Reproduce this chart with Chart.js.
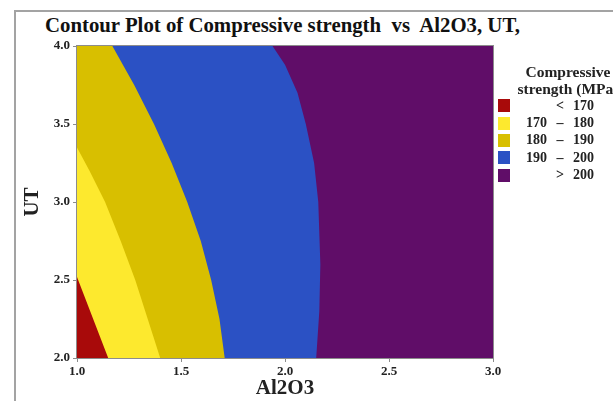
<!DOCTYPE html>
<html>
<head>
<meta charset="utf-8">
<script src="https://cdn.jsdelivr.net/npm/chart.js@4"></script>
<style>
  body { margin: 0; background: #fff; }
  #wrap { position: relative; width: 613px; height: 401px; overflow: hidden; background: #fff; }
  #frame { position: absolute; left: 14px; top: 10px; width: 700px; height: 500px;
           border-left: 2px solid #a3a3a3; border-top: 2px solid #a3a3a3; }
  #title { position: absolute; left: 45px; top: 13px; font: bold 21px "Liberation Serif", serif;
           color: #111; white-space: nowrap; transform-origin: 0 0; transform: scaleX(0.99); }
  #legend { position: absolute; left: 498px; top: 64px; font: bold 14px "Liberation Serif", serif; color: #222; }
  #legend .hd { width: 140px; text-align: center; line-height: 16.5px; font-size: 15.5px; white-space: nowrap; }
  #legend .row { height: 17.4px; display: flex; align-items: center; white-space: nowrap; }
  #legend .sw { width: 12px; height: 13px; margin-right: 13px; }
  #legend .lo { width: 24px; text-align: right; }
  #legend .da { width: 26px; text-align: center; }
  #legend .hi { width: 30px; text-align: left; }
  canvas { position: absolute; left: 0; top: 0; }
</style>
</head>
<body>
<div id="wrap">
  <div id="frame"></div>
  <div id="title">Contour Plot of Compressive strength&nbsp; vs&nbsp; Al2O3, UT,</div>
  <canvas id="myChart" width="613" height="401"></canvas>
  <div id="legend"></div>
</div>
<script>
// legend classes
var classNames = ["<  170", "170  –  180", "180  –  190", "190  –  200", ">  200"];
var classColors = ["#a80a0a", "#fde92e", "#d8bf00", "#2b51c4", "#600d68"];

// contour boundaries: UT value -> Al2O3 value
var ut170 = [2.0, 2.52, 4.0];
var al170 = [1.15, 1.0, 1.0];
var ut180 = [2.0, 2.25, 2.5, 2.75, 3.0, 3.2, 3.35, 4.0];
var al180 = [1.40, 1.34, 1.28, 1.21, 1.135, 1.06, 1.0, 1.0];
var ut190 = [2.0, 2.25, 2.5, 2.75, 3.0, 3.25, 3.5, 3.75, 4.0];
var al190 = [1.71, 1.685, 1.645, 1.595, 1.53, 1.455, 1.37, 1.275, 1.17];
var ut200 = [2.0, 2.3, 2.6, 3.0, 3.25, 3.5, 3.7, 3.88, 4.0];
var al200 = [2.15, 2.165, 2.17, 2.16, 2.14, 2.10, 2.06, 2.0, 1.94];
var utTop = [2.0, 4.0];
var alTop = [3.0, 3.0];

var xTicks = [1.0, 1.5, 2.0, 2.5, 3.0];
var yTicks = [2.0, 2.5, 3.0, 3.5, 4.0];

function pts(al, ut) {
  return ut.map(function (u, i) { return { x: al[i], y: u }; });
}

// 레전드
var lg = document.getElementById("legend");
var html = '<div class="hd">Compressive</div><div class="hd">strength (MPa)</div>';
classNames.forEach(function (n, i) {
  var p = n.split(/\s+/);
  var lo = "", da = "", hi = "";
  if (p.length === 3) { lo = p[0]; da = p[1]; hi = p[2]; } else { da = p[0]; hi = p[1]; }
  html += '<div class="row"><div class="sw" style="background:' + classColors[i] + '"></div>' +
    '<span class="lo">' + lo + '</span><span class="da">' + da.replace("<", "&lt;").replace(">", "&gt;") +
    '</span><span class="hi">' + hi + '</span></div>';
});
lg.innerHTML = html;

var frameBox = {
  id: "frameBox",
  afterDraw: function (chart) {
    var a = chart.chartArea, c = chart.ctx;
    c.save();
    c.strokeStyle = "#8c8c8c";
    c.lineWidth = 1;
    c.strokeRect(a.left - 0.5, a.top - 0.5, a.right - a.left + 1, a.bottom - a.top + 1);
    c.restore();
  }
};

function band(al, ut, color) {
  return {
    data: pts(al, ut),
    backgroundColor: color,
    borderWidth: 0,
    borderColor: "rgba(0,0,0,0)",
    pointRadius: 0,
    tension: 0,
    fill: { value: 1.0 },
  };
}

var ctx = document.getElementById("myChart").getContext("2d");
var chart = new Chart(ctx, {
  type: "line",
  data: {
    datasets: [
      band(al170, ut170, classColors[0]),
      band(al180, ut180, classColors[1]),
      band(al190, ut190, classColors[2]),
      band(al200, ut200, classColors[3]),
      band(alTop, utTop, classColors[4]),
    ],
  },
  options: {
    indexAxis: "y",
    responsive: false,
    animation: false,
    layout: { padding: { left: 20, top: 46, right: 120, bottom: 0 } },
    plugins: { legend: { display: false }, tooltip: { enabled: false } },
    scales: {
      x: {
        type: "linear",
        min: 1, max: 3,
        afterFit: function (s) { s.height = 43; },
        afterBuildTicks: function (s) { s.ticks = xTicks.map(function (v) { return { value: v }; }); },
        grid: { drawOnChartArea: false, tickLength: 4, color: "#8c8c8c" },
        border: { color: "#8c8c8c" },
        ticks: {
          padding: 2,
          color: "#222",
          font: { family: "Liberation Serif", size: 13, weight: "bold" },
          callback: function (v) { return Number(v).toFixed(1); },
        },
        title: {
          display: true, text: "Al2O3", color: "#222",
          padding: { top: 0, bottom: 0 },
          font: { family: "Liberation Serif", size: 21, weight: "bold" },
        },
      },
      y: {
        type: "linear",
        min: 2, max: 4,
        afterFit: function (s) { s.width = 57; },
        afterBuildTicks: function (s) { s.ticks = yTicks.map(function (v) { return { value: v }; }); },
        grid: { drawOnChartArea: false, tickLength: 4, color: "#8c8c8c" },
        border: { color: "#8c8c8c" },
        ticks: {
          padding: 3,
          color: "#222",
          font: { family: "Liberation Serif", size: 13, weight: "bold" },
          callback: function (v) { return Number(v).toFixed(1); },
        },
        title: {
          display: true, text: "UT", color: "#222",
          padding: { top: 0, bottom: 0 },
          font: { family: "Liberation Serif", size: 21, weight: "bold" },
        },
      },
    },
  },
  plugins: [frameBox],
});
</script>
</body>
</html>
